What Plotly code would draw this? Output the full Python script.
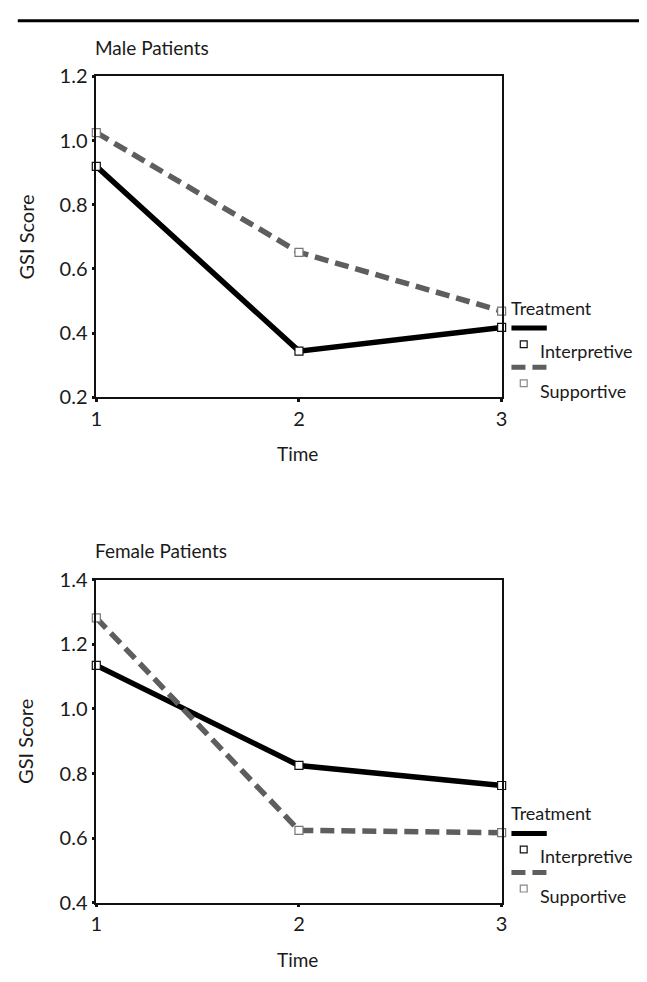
import plotly.graph_objects as go

# ---- data ----
time_points = [1, 2, 3]
male_interpretive = [0.92, 0.344, 0.418]
male_supportive = [1.025, 0.652, 0.469]
female_interpretive = [1.135, 0.825, 0.763]
female_supportive = [1.282, 0.624, 0.617]
male_yticks = [0.2, 0.4, 0.6, 0.8, 1.0, 1.2]
female_yticks = [0.4, 0.6, 0.8, 1.0, 1.2, 1.4]
series_names = ["Interpretive", "Supportive"]

W, H = 647, 982
FONT = "Lato"
TXT = "#1a1a1a"
GRAY = "#5e5e5e"
DASH = "14px,7px"


def px(x):
    return x / W


def py(y):
    return 1 - y / H


fig = go.Figure()

panels = [
    ("x", "y", male_interpretive, male_supportive),
    ("x2", "y2", female_interpretive, female_supportive),
]
for xa, ya, interp, supp in panels:
    fig.add_trace(go.Scatter(
        x=time_points, y=interp, xaxis=xa, yaxis=ya, mode="lines+markers",
        name=series_names[0], cliponaxis=False, showlegend=False,
        line=dict(color="#000000", width=5.5),
        marker=dict(symbol="square", size=8, color="white",
                    line=dict(color="#111111", width=1.2)),
    ))
    fig.add_trace(go.Scatter(
        x=time_points, y=supp, xaxis=xa, yaxis=ya, mode="lines+markers",
        name=series_names[1], cliponaxis=False, showlegend=False,
        line=dict(color=GRAY, width=5.5, dash=DASH),
        marker=dict(symbol="square", size=8, color="white",
                    line=dict(color="#777777", width=1.2)),
    ))

x_dom = [px(92), px(505)]
top_dom = [py(394), py(65)]
bot_dom = [py(912), py(581)]

axis_common = dict(
    showline=True, mirror=True, linecolor="#111111", linewidth=1.5,
    showgrid=False, zeroline=False, ticks="outside", ticklen=3,
    tickwidth=3, tickcolor="#111111",
    tickfont=dict(family=FONT, size=20, color=TXT),
)

fig.update_layout(
    width=W, height=H, autosize=False,
    margin=dict(l=0, r=0, t=0, b=0),
    paper_bgcolor="white", plot_bgcolor="white",
    xaxis=dict(domain=x_dom, anchor="y", range=[1, 3], tickvals=time_points,
               ticktext=[str(t) for t in time_points], **axis_common),
    yaxis=dict(domain=top_dom, anchor="x", range=[0.2, 1.2],
               tickvals=male_yticks,
               ticktext=[f"{v:.1f}" for v in male_yticks], **axis_common),
    xaxis2=dict(domain=x_dom, anchor="y2", range=[1, 3], tickvals=time_points,
                ticktext=[str(t) for t in time_points], **axis_common),
    yaxis2=dict(domain=bot_dom, anchor="x2", range=[0.4, 1.4],
                tickvals=female_yticks,
                ticktext=[f"{v:.1f}" for v in female_yticks], **axis_common),
)

shapes = []
annotations = []

# top rule
shapes.append(dict(type="line", xref="paper", yref="paper",
                   x0=px(12), x1=px(645), y0=py(8), y1=py(8),
                   line=dict(color="#000000", width=3)))


def text(x, y, s, size=18, anchor="left", angle=0):
    annotations.append(dict(
        xref="paper", yref="paper", x=px(x), y=py(y), text=s,
        showarrow=False, xanchor=anchor, yanchor="middle", textangle=angle,
        font=dict(family=FONT, size=size, color=TXT)))


for title, top_px, bottom_px in [("Male Patients", 65, 394),
                                 ("Female Patients", 581, 912)]:
    text(89, top_px - 30, title, size=19)
    text(20, (top_px + bottom_px) / 2, "GSI Score", size=20,
         anchor="center", angle=-90)
    text(297, bottom_px + 58, "Time", size=19, anchor="center")

    # legend
    ly = bottom_px - 92
    text(512, ly, "Treatment", size=18)
    shapes.append(dict(type="line", xref="paper", yref="paper",
                       x0=px(515), x1=px(551), y0=py(ly + 21), y1=py(ly + 21),
                       line=dict(color="#000000", width=5)))
    shapes.append(dict(type="rect", xref="paper", yref="paper",
                       x0=px(524), x1=px(531), y0=py(ly + 41), y1=py(ly + 34),
                       fillcolor="white", line=dict(color="#111111", width=1.2)))
    text(542, ly + 44, series_names[0], size=18)
    shapes.append(dict(type="line", xref="paper", yref="paper",
                       x0=px(515), x1=px(551), y0=py(ly + 61), y1=py(ly + 61),
                       line=dict(color=GRAY, width=5, dash=DASH)))
    shapes.append(dict(type="rect", xref="paper", yref="paper",
                       x0=px(524), x1=px(531), y0=py(ly + 81), y1=py(ly + 74),
                       fillcolor="white", line=dict(color="#888888", width=1.2)))
    text(542, ly + 85, series_names[1], size=18)

fig.update_layout(shapes=shapes, annotations=annotations)

fig.write_html(
    "out.html",
    config={"displayModeBar": False},
    post_script="document.body.style.margin='0';"
                "document.body.style.overflow='hidden';",
)
